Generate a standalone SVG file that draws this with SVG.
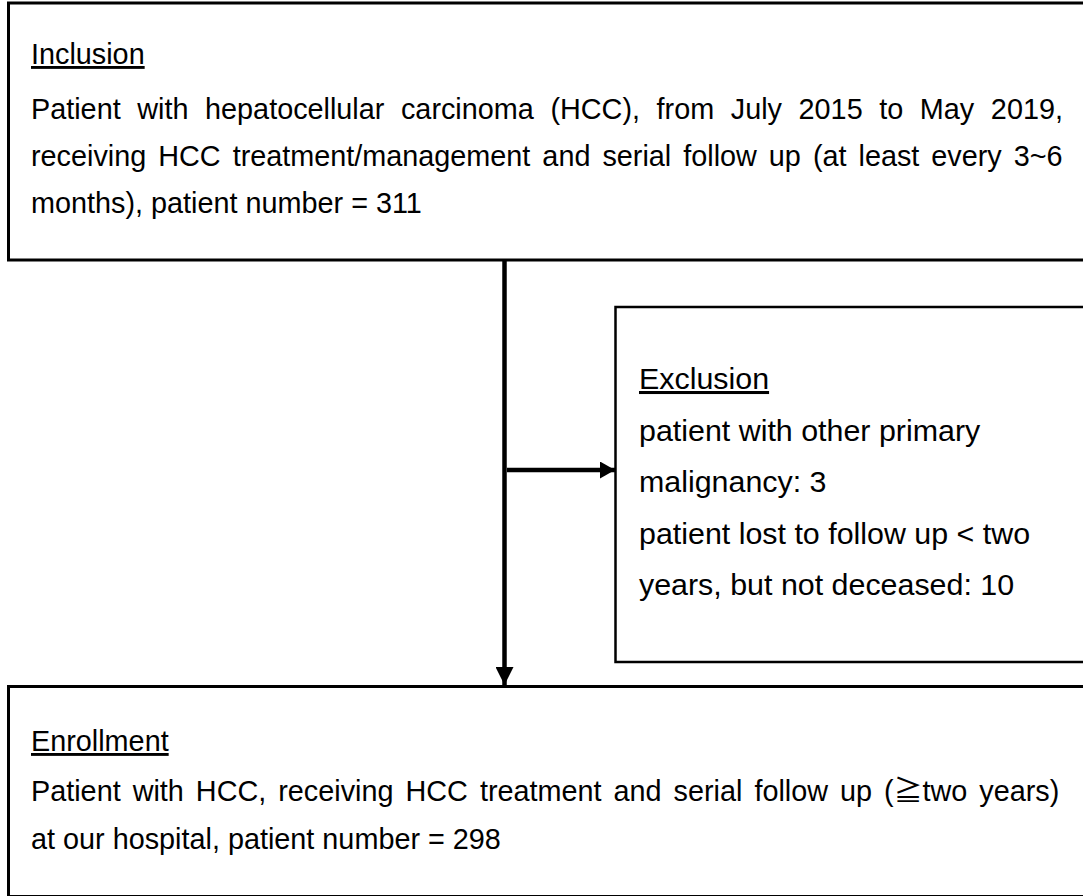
<svg xmlns="http://www.w3.org/2000/svg" width="1083" height="896" viewBox="0 0 1083 896">
  <style>
    .box { fill: #ffffff; stroke: #000000; stroke-width: 3; }
    .t { font-family: "Liberation Sans", Arial, sans-serif; fill: #000000; }
    .main { font-size: 28.8px; }
    .exc { font-size: 30.4px; }
    .u { text-decoration: underline; }
    .cjk { font-family: "Noto Sans CJK TC", "Noto Sans CJK SC", sans-serif; }
    .conn { stroke: #000000; stroke-width: 4.5; fill: none; }
  </style>
  <defs>
    <marker id="arrowDown" markerUnits="userSpaceOnUse" markerWidth="18" markerHeight="18" refX="17" refY="8.5" orient="auto" viewBox="0 0 17 17">
      <path d="M0,0 L17,8.5 L0,17 Z" fill="#000000"/>
    </marker>
    <marker id="arrowRight" markerUnits="userSpaceOnUse" markerWidth="16" markerHeight="17" refX="15" refY="8.5" orient="auto" viewBox="0 0 15 17">
      <path d="M0,0 L15,8.5 L0,17 Z" fill="#000000"/>
    </marker>
  </defs>
  <rect width="1083" height="896" fill="#ffffff"/>

  <g id="inclusion">
    <rect class="box" x="8.5" y="3" width="1090" height="257"/>
    <text class="t main u" x="31" y="64">Inclusion</text>
    <text class="t main" x="31" y="119" word-spacing="8.6">Patient with hepatocellular carcinoma (HCC), from July 2015 to May 2019,</text>
    <text class="t main" x="31" y="166" word-spacing="4">receiving HCC treatment/management and serial follow up (at least every 3~6</text>
    <text class="t main" x="31" y="213">months), patient number = 311</text>
  </g>

  <g id="exclusion">
    <rect class="box" x="615.5" y="307" width="480" height="355" style="stroke-width:2.5"/>
    <text class="t exc u" x="639" y="389">Exclusion</text>
    <text class="t exc" x="639" y="441">patient with other primary</text>
    <text class="t exc" x="639" y="492">malignancy: 3</text>
    <text class="t exc" x="639" y="544">patient lost to follow up &lt; two</text>
    <text class="t exc" x="639" y="595">years, but not deceased: 10</text>
  </g>

  <g id="enrollment">
    <rect class="box" x="8.5" y="686.5" width="1090" height="210"/>
    <text class="t main u" x="31" y="751">Enrollment</text>
    <text class="t main" x="31" y="801" word-spacing="4">Patient with HCC, receiving HCC treatment and serial follow up (<tspan class="cjk">≧</tspan>two years)</text>
    <text class="t main" x="31" y="849">at our hospital, patient number = 298</text>
  </g>

  <g id="connectors">
    <line class="conn" x1="504.5" y1="261" x2="504.5" y2="685" marker-end="url(#arrowDown)"/>
    <line class="conn" x1="507" y1="470" x2="615" y2="470" marker-end="url(#arrowRight)"/>
  </g>
</svg>
